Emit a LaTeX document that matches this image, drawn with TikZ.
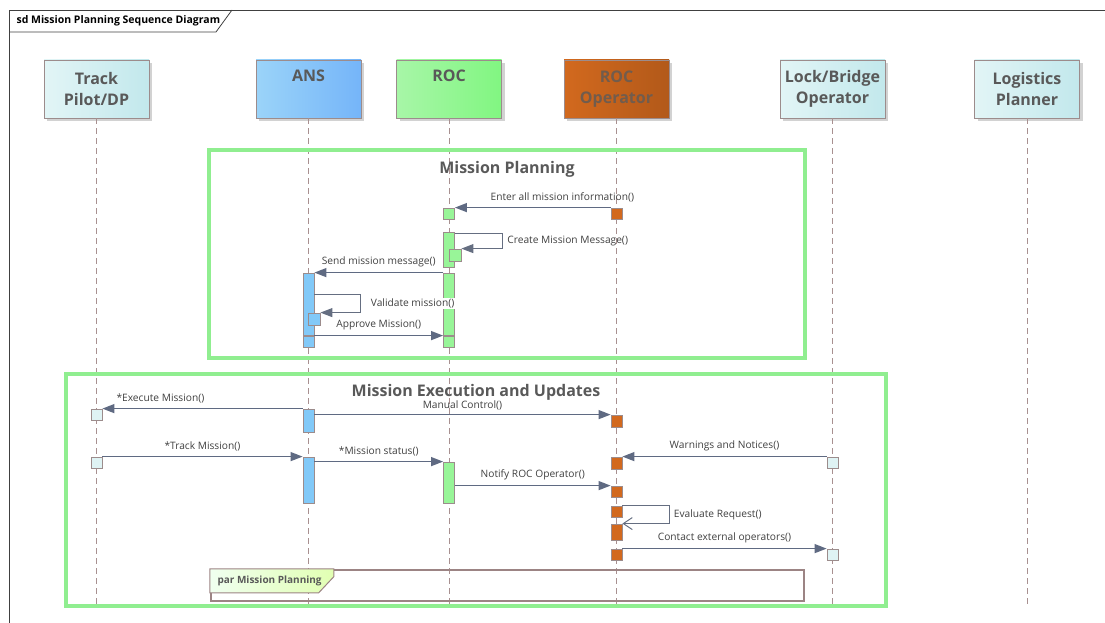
\documentclass[tikz,border=0pt]{standalone}
\usepackage{fontspec}
\setmainfont{Open Sans}
\usetikzlibrary{arrows.meta,shadows}

\definecolor{actline}{HTML}{9C8C8C}
\definecolor{lifecol}{HTML}{A89090}
\definecolor{msgline}{HTML}{5F6A82}
\definecolor{hdrtext}{HTML}{595959}
\definecolor{lbltext}{HTML}{404040}
\definecolor{grpgreen}{HTML}{90EE90}
\definecolor{parline}{HTML}{9C8484}
\definecolor{ansfill}{HTML}{82C9F8}
\definecolor{rocfill}{HTML}{98F598}
\definecolor{ropfill}{HTML}{D2691E}
\definecolor{cyanfill}{HTML}{DFF3F4}
\definecolor{cyanleft}{HTML}{E2F5F6}
\definecolor{cyanright}{HTML}{C2E8EC}

\begin{document}
\begin{tikzpicture}[x=1pt,y=-1pt,
  hdr/.style={draw=actline, minimum width=105pt, minimum height=58pt, inner sep=0pt, align=center,
    text=hdrtext, font=\fontsize{16}{21}\selectfont\bfseries,
    drop shadow={shadow xshift=3pt, shadow yshift=-3pt, fill=black!35}},
  hdrcyan/.style={hdr, left color=cyanleft, right color=cyanright},
  hdrans/.style={hdr, left color=ansfill!80!white, right color=ansfill!90!blue},
  hdrroc/.style={hdr, left color=rocfill!85!white, right color=rocfill!85!green},
  hdrrop/.style={hdr, left color=ropfill, right color=ropfill!85!black, text=hdrtext!80!ropfill},
  life/.style={draw=lifecol, line width=0.8pt, dash pattern=on 6pt off 4pt},
  act/.style={draw=actline, line width=0.8pt, minimum width=11pt, inner sep=0pt},
  msg/.style={draw=msgline, line width=1.3pt, -{Triangle[length=12pt,width=9pt]}},
  selfmsg/.style={draw=msgline!80!gray, line width=1pt, -{Triangle[length=12pt,width=9pt]}},
  asyncmsg/.style={draw=msgline!80!gray, line width=1pt, -{Straight Barb[length=9pt,width=12pt]}},
  lbl/.style={text=lbltext, font=\fontsize{10.2}{12}\selectfont, inner sep=1pt},
  grp/.style={draw=grpgreen, line width=4pt, inner sep=0pt},
  ttl/.style={text=hdrtext, font=\fontsize{16}{20}\selectfont\bfseries},
  frm/.style={draw=black!75, line width=0.8pt}]
\useasboundingbox (0,0) rectangle (1105,623);

\draw[frm] (9,623) -- (9,10) -- (1105,10);
\draw[frm] (9,32) -- (216,32) -- (232,10);
\node[anchor=west, font=\fontsize{10.5}{12}\selectfont\bfseries] (sd) at (13,21) {sd Mission Planning Sequence Diagram};

\node[hdrcyan] (trk) at (96.5,89) {Track\\Pilot/DP};
\node[hdrans] (ans) at (308.5,89) {ANS\\\strut};
\node[hdrroc] (roc) at (449,89) {ROC\\\strut};
\node[hdrrop] (rop) at (616.5,89) {ROC\\Operator};
\node[hdrcyan] (lbo) at (832.5,89) {Lock/Bridge\\Operator};
\node[hdrcyan] (lgp) at (1027,89) {Logistics\\Planner};

\foreach \n in {trk,ans,roc,rop,lbo,lgp}
  \draw[life] (\n.south) -- ++(0,489);

\node[grp, minimum width=596pt, minimum height=208pt] (mp) at (507,254) {};
\node[ttl] (mpt) at (507,169) {Mission Planning};
\node[grp, minimum width=820pt, minimum height=232pt] (me) at (476,490) {};
\node[ttl] (met) at (476,392) {Mission Execution and Updates};

\node[draw=parline, line width=2.5pt, minimum width=593pt, minimum height=31pt, inner sep=0pt] (pf) at (507.5,585.5) {};
\draw[draw=parline, line width=1pt, left color=green!6, right color=green!18!lime!30]
  (pf.north west) -- ++(124,0) -- ++(0,8) -- ++(-15,16) -- ++(-109,0) -- cycle;
\node[anchor=west, text=hdrtext, font=\fontsize{10}{12}\selectfont\bfseries] (pfl) at (214,581) {par Mission Planning};

\node[act, fill=rocfill, minimum height=11pt] (r1) at (449,213.5) {};
\node[act, fill=ropfill, minimum height=11pt] (o1) at (616.5,213.5) {};
\node[act, fill=rocfill, minimum height=35pt] (r2) at (449,249.5) {};
\node[act, fill=rocfill, minimum width=12pt, minimum height=12pt] (r2n) at (455,255) {};
\node[act, fill=rocfill, minimum height=62pt] (r3) at (449,304) {};
\node[act, fill=ansfill, minimum height=62pt] (a1) at (308.5,304) {};
\node[act, fill=ansfill, minimum width=12pt, minimum height=12pt] (a1n) at (314,319) {};
\node[act, fill=rocfill, minimum height=11pt] (r4) at (449,341.5) {};
\node[act, fill=ansfill, minimum height=11pt] (a2) at (308.5,341.5) {};

\draw[msg] (o1.north west) -- (r1.north east) node[lbl, above=4pt, pos=0.31] {Enter all mission information()};
\draw[selfmsg] (r2.north east) ++(0,2) -- ++(48,0) -- ++(0,15) node[lbl, midway, right=3pt] {Create Mission Message()} -- (r2n.north east);
\draw[msg] (r3.north west) -- (a1.north east) node[lbl, above=4pt, midway] {Send mission message()};
\draw[selfmsg] (a1.north east) ++(0,22) -- ++(46,0) -- ++(0,18) node[lbl, midway, right=9pt, fill=white] {Validate mission()} -- (a1n.north east);
\draw[msg] (a2.north east) -- (r4.north west) node[lbl, above=4pt, midway] {Approve Mission()};

\node[act, fill=cyanfill, minimum height=11pt] (t1) at (96.5,414.5) {};
\node[act, fill=ansfill, minimum height=23pt] (a3) at (308.5,420.5) {};
\node[act, fill=ropfill, minimum height=12pt] (o2) at (616.5,421) {};
\node[act, fill=cyanfill, minimum height=11pt] (t2) at (96.5,462.5) {};
\node[act, fill=ansfill, minimum height=46pt] (a4) at (308.5,480) {};
\node[act, fill=rocfill, minimum height=41pt] (r5) at (449,482.5) {};
\node[act, fill=ropfill, minimum height=12pt] (o3) at (616.5,463) {};
\node[act, fill=cyanfill, minimum height=11pt] (l1) at (832.5,462.5) {};
\node[act, fill=ropfill, minimum height=11pt] (o4) at (616.5,491.5) {};
\node[act, fill=ropfill, minimum height=11pt] (o5) at (616.5,511.5) {};
\node[act, fill=ropfill, minimum height=16pt] (o6) at (616.5,532) {};
\node[act, fill=ropfill, minimum height=11pt] (o7) at (616.5,554.5) {};
\node[act, fill=cyanfill, minimum height=11pt] (l2) at (832.5,554.5) {};

\draw[msg] (a3.north west) -- (t1.north east) node[lbl, above=4pt, pos=0.71] {*Execute Mission()};
\draw[msg] (a3.east |- o2.north) -- (o2.north west) node[lbl, above=3pt, midway] {Manual Control()};
\draw[msg] (t2.north east) -- (a4.north west) node[lbl, above=4pt, midway] {*Track Mission()};
\draw[msg] (a4.east |- r5.north) -- (r5.north west) node[lbl, above=4pt, midway] {*Mission status()};
\draw[msg] (l1.north west) -- (o3.north east) node[lbl, above=4pt, midway] {Warnings and Notices()};
\draw[msg] (r5.east |- o4.north) -- (o4.north west) node[lbl, above=4pt, midway] {Notify ROC Operator()};
\draw[asyncmsg] (o5.north east) -- ++(47,0) -- ++(0,18) node[lbl, midway, right=3pt] {Evaluate Request()} -- (o6.north east);
\draw[msg] (o7.north east) -- (l2.north west) node[lbl, above=4pt, midway] {Contact external operators()};
\end{tikzpicture}
\end{document}
